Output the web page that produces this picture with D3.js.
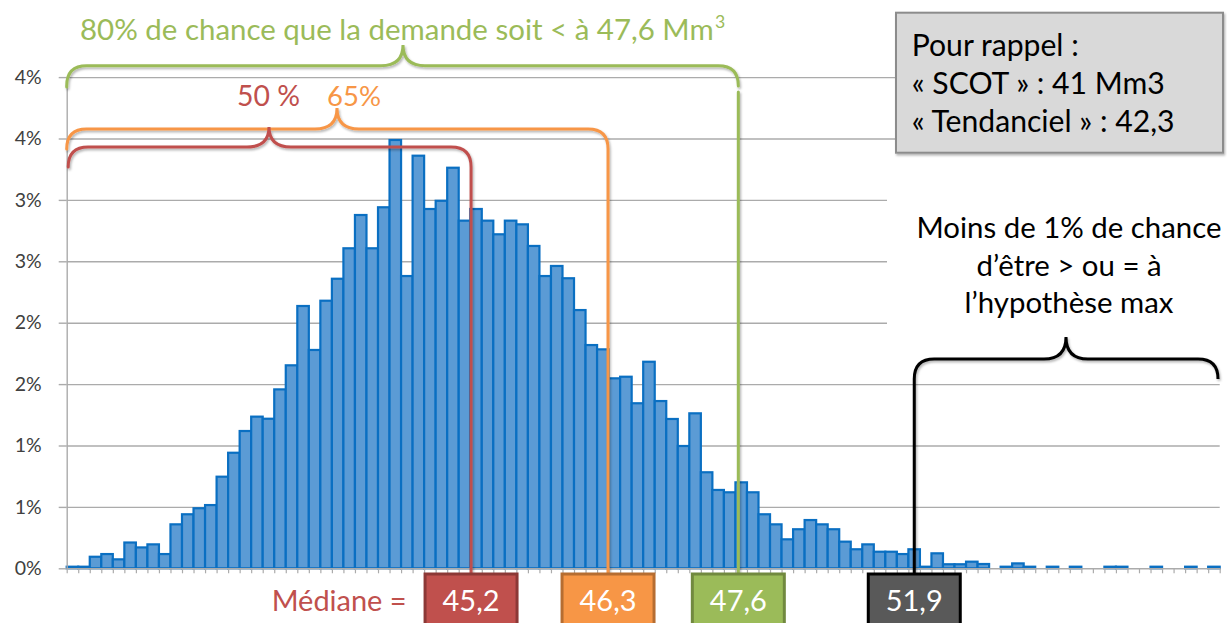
<!DOCTYPE html>
<html><head><meta charset="utf-8">
<script src="https://cdn.jsdelivr.net/npm/d3@7"></script>
<style>html,body{margin:0;padding:0;background:#fff;} svg{display:block;font-family:Lato,"Open Sans",sans-serif;}</style>
</head><body><svg id="chart" width="1227" height="623"></svg>
<script>
// ---------- DATA ----------
const bins = d3.range(1, 101); // 100 histogram classes
const shares = [ // % of simulations per class
  0.013,0.013,0.094,0.116,0.073,0.21,0.17,0.195,0.116,0.358,
  0.44,0.489,0.515,0.746,0.941,1.118,1.235,1.218,1.457,1.653,
  2.136,1.778,2.179,2.358,2.606,2.877,2.606,2.94,3.488,2.38,
  3.36,2.926,2.993,3.262,2.831,2.926,2.831,2.72,2.831,2.801,
  2.625,2.38,2.462,2.362,2.103,1.818,1.783,1.547,1.56,1.344,
  1.682,1.362,1.216,0.996,1.262,0.782,0.638,0.619,0.70,0.619,
  0.44,0.358,0.236,0.318,0.393,0.358,0.318,0.217,0.155,0.195,
  0.135,0.135,0.116,0.155,0.013,0.122,0.033,0.033,0.054,0.035,
  0,0.013,0.04,0.013,0,0.013,0,0.013,0,0,
  0.013,0.013,0,0,0.013,0,0,0.013,0,0.013
];
const yTickValues = [0,0.5,1,1.5,2,2.5,3,3.5,4];
const yTickLabels = ["0%","1%","1%","2%","2%","3%","3%","4%","4%"];
const markerLabels = ["45,2","46,3","47,6","51,9"];
const markerBins = [35.07, 46.95, 58.25, 73.51]; // position on the class axis
const titleText = "80% de chance que la demande soit < à 47,6 Mm";
const pctLabels = ["50 %","65%"];
const recallLines = ["Pour rappel :","« SCOT » : 41 Mm3","« Tendanciel » : 42,3"];
const maxLines = ["Moins de 1% de chance","d\u2019être > ou = à","l\u2019hypothèse max"];
const medianText = "Médiane =";

// ---------- STYLE ----------
const C = {red:"#c0504d", redD:"#8c3836", orange:"#f79646", orangeD:"#b66d31",
           green:"#9bbb59", greenD:"#71893f", dark:"#595959", grid:"#ababab",
           barFill:"#5b9bd5", barStroke:"#0a6fc2", text:"#404040"};

const svg = d3.select("#chart");
const defs = svg.append("defs");
const f = defs.append("filter").attr("id","sh").attr("x","-5%").attr("y","-5%").attr("width","110%").attr("height","110%");
f.append("feDropShadow").attr("dx",1.2).attr("dy",1.8).attr("stdDeviation",1.2).attr("flood-color","#000").attr("flood-opacity",0.3);

const plot = {left:66.7, right:1219.7, top:77.1, bottom:568.3};
const x = d3.scaleBand().domain(bins).range([plot.left, plot.right]).padding(0);
const xBin = d3.scaleLinear().domain([0, bins.length]).range([plot.left, plot.right]);
const y = d3.scaleLinear().domain([0,4]).range([plot.bottom, plot.top]);

// scale font size so a text (or the reference line of a group) reaches a target width
function fitGroup(sel, refIndex, target){
  const fs = parseFloat(sel.attr("font-size"));
  const w = sel.nodes()[refIndex].getComputedTextLength();
  sel.attr("font-size", fs*target/w);
}

// grid
const grid = svg.append("g").attr("transform",`translate(${plot.left},0)`)
  .call(d3.axisLeft(y).tickValues(yTickValues.slice(1)).tickSize(-(plot.right-plot.left)).tickFormat(""));
grid.select(".domain").remove();
grid.selectAll("line").attr("stroke",C.grid).attr("stroke-width",1.4);

// white patch behind the right-hand note (hides grid)
svg.append("rect").attr("x",887).attr("y",182).attr("width",340).attr("height",150).attr("fill","#fff");

// bars
svg.append("g").selectAll("rect").data(bins.map((b,i)=>({b, v:shares[i]})).filter(d=>d.v>0))
  .join("rect")
  .attr("x", d=>x(d.b)).attr("width", x.bandwidth())
  .attr("y", d=>y(d.v)).attr("height", d=>plot.bottom - y(d.v))
  .attr("fill", C.barFill).attr("stroke", C.barStroke).attr("stroke-width", 2.2);

// y axis
const ya = svg.append("g").attr("transform",`translate(${plot.left},0)`)
  .call(d3.axisLeft(y).tickValues(yTickValues).tickFormat((d,i)=>yTickLabels[i]).tickSize(8).tickSizeOuter(0).tickPadding(17));
ya.select(".domain").attr("stroke",C.grid).attr("stroke-width",1.4);
ya.selectAll("line").attr("stroke",C.grid).attr("stroke-width",1.4);
ya.selectAll("text").attr("font-size",19.5).attr("fill",C.text).attr("font-family","Lato");

// x axis
const xa = svg.append("g").attr("transform",`translate(0,${plot.bottom})`)
  .call(d3.axisBottom(xBin).tickValues(d3.range(0, bins.length+1)).tickSize(5).tickSizeOuter(0).tickFormat(""));
xa.select(".domain").attr("stroke",C.grid).attr("stroke-width",1.4);
xa.selectAll("line").attr("stroke",C.grid).attr("stroke-width",1.2);

// brace helper
function brace(x0, x1, xc, yH, yTip, yL, yR, r, rc){
  return `M${x0},${yL} L${x0},${yH+r} Q${x0},${yH} ${x0+r},${yH} L${xc-rc},${yH} Q${xc},${yH} ${xc},${yTip}`+
         ` Q${xc},${yH} ${xc+rc},${yH} L${x1-r},${yH} Q${x1},${yH} ${x1},${yH+r} L${x1},${yR}`;
}
const ann = svg.append("g").attr("fill","none").attr("stroke-width",3).attr("stroke-linecap","round").attr("filter","url(#sh)");
const xs = markerBins.map(b=>xBin(b));
const boxTop = 574;
ann.append("path").attr("stroke",C.green).attr("d",brace(plot.left, xs[2], 403, 65.7, 45, 87, 86, 20, 22));
ann.append("line").attr("stroke",C.green).attr("x1",xs[2]).attr("x2",xs[2]).attr("y1",92).attr("y2",boxTop);
ann.append("path").attr("stroke",C.orange).attr("d",brace(plot.left, xs[1], 337, 129, 108, 149, boxTop, 20, 22));
ann.append("path").attr("stroke",C.red).attr("d",brace(plot.left+1.5, xs[0], 269, 147, 127, 167, boxTop, 20, 22));
ann.append("path").attr("stroke","#000").attr("d",brace(xs[3], 1218, 1066, 359, 337, boxTop, 378, 20, 22));

// title & percentages
const t = svg.append("text").attr("x",80).attr("y",40).attr("font-size",28).attr("fill",C.green).text(titleText);
fitGroup(t, 0, 634);
const tfs = parseFloat(t.attr("font-size"));
svg.append("text").attr("x",80+634+1).attr("y",40-tfs*0.42).attr("font-size",tfs*0.6).attr("fill",C.green).text("3");
fitGroup(svg.append("text").attr("x",237).attr("y",106).attr("font-size",28).attr("fill",C.red).text(pctLabels[0]), 0, 63);
fitGroup(svg.append("text").attr("x",327).attr("y",106).attr("font-size",28).attr("fill",C.orange).text(pctLabels[1]), 0, 54);

// recall box
svg.append("rect").attr("x",896).attr("y",12.7).attr("width",327).attr("height",140)
  .attr("fill","#d9d9d9").attr("stroke","#8c8c8c").attr("stroke-width",2).attr("filter","url(#sh)");
const rl = svg.append("g").selectAll("text").data(recallLines).join("text")
  .attr("x",911.7).attr("y",(d,i)=>56+i*37.8).attr("font-size",26).attr("fill","#000").text(d=>d);
fitGroup(rl, 2, 263);

// max note
const ml = svg.append("g").selectAll("text").data(maxLines).join("text")
  .attr("x",1069).attr("y",(d,i)=>238+i*37.5).attr("text-anchor","middle").attr("font-size",26).attr("fill","#000").text(d=>d);
fitGroup(ml, 0, 305);

// bottom markers
const mStyle = [[C.red,C.redD],[C.orange,C.orangeD],[C.green,C.greenD],[C.dark,"#000"]];
const mg = svg.append("g").selectAll("g").data(markerLabels).join("g");
mg.append("rect").attr("x",(d,i)=>xs[i]-46).attr("y",boxTop).attr("width",92).attr("height",60)
  .attr("fill",(d,i)=>mStyle[i][0]).attr("stroke",(d,i)=>mStyle[i][1]).attr("stroke-width",3);
const mt = mg.append("text").attr("x",(d,i)=>xs[i]).attr("y",611).attr("text-anchor","middle")
  .attr("font-size",30).attr("fill","#fff").text(d=>d);
fitGroup(mt, 0, 57);
fitGroup(svg.append("text").attr("x",271.7).attr("y",611).attr("font-size",30).attr("fill",C.red).text(medianText), 0, 135);
</script></body></html>
